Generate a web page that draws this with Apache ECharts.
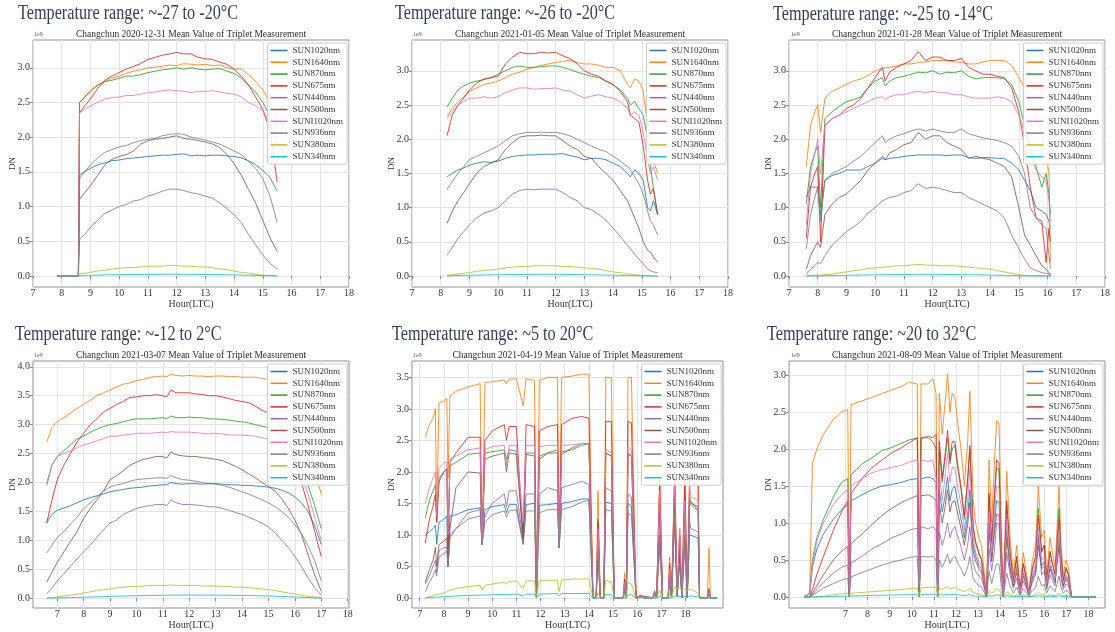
<!DOCTYPE html>
<html><head><meta charset="utf-8">
<script src="https://cdn.jsdelivr.net/npm/echarts@6/dist/echarts.min.js"></script>
<style>html,body{margin:0;padding:0;background:#fff}#c{width:1115px;height:632px}</style>
</head><body><div id="c"></div><script>
const NAMES = ['SUN1020nm','SUN1640nm','SUN870nm','SUN675nm','SUN440nm','SUN500nm','SUNI1020nm','SUN936nm','SUN380nm','SUN340nm'];
const COLORS = ['#1f77b4','#ff7f0e','#2ca02c','#d62728','#9467bd','#8c564b','#e377c2','#7f7f7f','#bcbd22','#17becf'];
const TEMP_TITLES = ['Temperature range: ~-27 to -20\u00b0C','Temperature range: ~-26 to -20\u00b0C','Temperature range: ~-25 to -14\u00b0C','Temperature range: ~-12 to 2\u00b0C','Temperature range: ~5 to 20\u00b0C','Temperature range: ~20 to 32\u00b0C'];
const DATES = ['2020-12-31','2021-01-05','2021-01-28','2021-03-07','2021-04-19','2021-08-09'];
const X_TICKS = [7,8,9,10,11,12,13,14,15,16,17,18];
const Y_TICKS_3 = [0,0.5,1,1.5,2,2.5,3];
const Y_TICKS_35 = [0,0.5,1,1.5,2,2.5,3,3.5];
const Y_TICKS_4 = [0,0.5,1,1.5,2,2.5,3,3.5,4];

// Panel 1 : 2020-12-31 (values in 1e9 DN)
const P1_T = [7.85,8.58,8.62,8.8,9.0,9.25,9.5,9.75,10.0,10.25,10.5,10.75,11.0,11.25,11.5,11.75,12.0,12.25,12.5,12.75,13.0,13.25,13.5,13.75,14.0,14.25,14.5,14.75,15.0,15.25,15.5];
const P1_SUN1020 = [0,0,1.45,1.5,1.55,1.6,1.63,1.66,1.67,1.69,1.7,1.71,1.72,1.73,1.74,1.74,1.75,1.76,1.73,1.74,1.73,1.74,1.74,1.73,1.72,1.7,1.66,1.6,1.52,1.42,1.22];
const P1_SUN1640 = [0,0,2.5,2.58,2.68,2.75,2.8,2.85,2.88,2.92,2.95,2.97,3.0,3.01,3.02,3.04,3.03,3.06,3.05,3.04,3.05,3.03,3.04,3.0,2.98,2.98,2.9,2.8,2.68,2.5,2.3];
const P1_SUN870 = [0,0,2.5,2.58,2.65,2.75,2.8,2.82,2.85,2.88,2.88,2.9,2.93,2.95,2.97,2.98,3.0,2.98,3.0,2.98,2.97,2.98,2.99,2.95,2.92,2.85,2.75,2.65,2.5,2.3,2.1];
const P1_SUN675 = [0,0,2.35,2.45,2.55,2.7,2.82,2.88,2.93,2.98,3.02,3.06,3.12,3.15,3.18,3.2,3.22,3.2,3.2,3.15,3.13,3.12,3.08,3.05,2.98,2.88,2.75,2.58,2.4,2.1,1.35];
const P1_SUN440 = [0,0,0.52,0.6,0.7,0.8,0.9,0.95,1.0,1.03,1.08,1.1,1.15,1.18,1.22,1.25,1.25,1.23,1.2,1.18,1.15,1.12,1.05,0.97,0.88,0.77,0.6,0.45,0.3,0.18,0.1];
const P1_SUN500 = [0,0,1.1,1.2,1.3,1.45,1.6,1.68,1.72,1.75,1.8,1.9,1.95,1.97,1.98,2.0,2.02,1.98,1.97,1.95,1.93,1.9,1.85,1.75,1.62,1.45,1.25,1.05,0.8,0.55,0.35];
const P1_SUNI1020 = [0,0,2.35,2.4,2.45,2.5,2.55,2.57,2.58,2.6,2.6,2.62,2.64,2.65,2.67,2.68,2.67,2.66,2.64,2.66,2.66,2.67,2.65,2.63,2.62,2.58,2.5,2.45,2.38,2.2,1.9];
const P1_SUN936 = [0,0,1.4,1.5,1.6,1.7,1.78,1.82,1.86,1.88,1.92,1.95,1.97,1.98,2.02,2.04,2.05,2.04,2.0,1.98,1.96,1.93,1.9,1.85,1.8,1.75,1.65,1.55,1.4,1.15,0.77];
const P1_SUN380 = [0,0,0.03,0.04,0.05,0.07,0.08,0.1,0.11,0.12,0.12,0.13,0.14,0.14,0.14,0.15,0.15,0.14,0.14,0.13,0.13,0.12,0.1,0.09,0.07,0.05,0.04,0.02,0.01,0.005,0.0];
const P1_SUN340 = [0,0,0.005,0.008,0.01,0.012,0.015,0.017,0.018,0.02,0.02,0.021,0.022,0.022,0.023,0.023,0.023,0.023,0.022,0.022,0.021,0.02,0.019,0.017,0.015,0.012,0.01,0.007,0.004,0.002,0.0];

// Panel 2 : 2021-01-05
const P2_T = [8.22,8.4,8.6,8.8,9.0,9.25,9.5,9.75,10.0,10.25,10.5,10.75,11.0,11.25,11.5,11.75,12.0,12.25,12.5,12.75,13.0,13.25,13.5,13.75,14.0,14.25,14.5,14.6,14.75,14.9,15.05,15.2,15.3,15.4,15.55];
const P2_SUN1020 = [1.45,1.5,1.55,1.58,1.62,1.65,1.67,1.66,1.68,1.72,1.75,1.76,1.77,1.77,1.78,1.78,1.78,1.79,1.76,1.74,1.7,1.72,1.72,1.7,1.65,1.6,1.5,1.45,1.55,1.5,1.4,1.0,0.95,1.1,0.9];
const P2_SUN1640 = [2.33,2.45,2.55,2.62,2.7,2.75,2.8,2.82,2.85,2.9,2.95,2.98,3.02,3.05,3.08,3.1,3.12,3.14,3.15,3.12,3.1,3.1,3.08,3.05,3.05,3.0,2.8,2.75,2.88,2.85,2.7,2.2,2.0,1.7,1.5];
const P2_SUN870 = [2.47,2.6,2.72,2.78,2.82,2.85,2.87,2.9,2.95,3.0,3.05,3.07,3.05,3.05,3.06,3.07,3.07,3.05,3.02,2.98,2.95,2.92,2.9,2.85,2.8,2.72,2.6,2.5,2.55,2.45,2.35,2.0,1.6,1.3,0.9];
const P2_SUN675 = [2.05,2.35,2.5,2.6,2.72,2.82,2.88,2.9,2.92,3.1,3.2,3.27,3.25,3.25,3.27,3.26,3.27,3.22,3.18,3.1,3.0,2.95,2.92,2.85,2.8,2.7,2.55,2.35,2.3,2.25,1.9,1.4,1.2,1.28,0.9];
const P2_SUN440 = [0.3,0.42,0.55,0.65,0.75,0.85,0.92,0.95,1.0,1.1,1.2,1.25,1.27,1.26,1.27,1.27,1.27,1.22,1.15,1.1,1.0,0.97,0.9,0.82,0.7,0.58,0.45,0.4,0.32,0.25,0.18,0.1,0.08,0.06,0.05];
const P2_SUN500 = [0.77,0.95,1.1,1.22,1.35,1.5,1.6,1.65,1.7,1.85,1.95,2.03,2.05,2.05,2.06,2.05,2.05,1.98,1.9,1.85,1.75,1.72,1.6,1.5,1.4,1.25,1.1,1.0,0.85,0.7,0.5,0.38,0.35,0.28,0.2];
const P2_SUNI1020 = [2.3,2.4,2.5,2.55,2.6,2.6,2.62,2.6,2.62,2.68,2.72,2.75,2.75,2.73,2.74,2.74,2.75,2.72,2.7,2.65,2.6,2.63,2.65,2.62,2.6,2.55,2.45,2.35,2.4,2.35,2.1,1.7,1.5,1.6,1.4];
const P2_SUN936 = [1.27,1.38,1.5,1.6,1.7,1.75,1.8,1.85,1.9,1.98,2.05,2.08,2.1,2.1,2.1,2.1,2.1,2.08,2.05,2.0,1.95,1.9,1.85,1.82,1.75,1.68,1.6,1.55,1.45,1.35,1.2,0.95,0.8,0.75,0.6];
const P2_SUN380 = [0.01,0.02,0.03,0.04,0.05,0.07,0.08,0.09,0.1,0.12,0.13,0.14,0.14,0.15,0.15,0.15,0.15,0.14,0.14,0.13,0.12,0.11,0.1,0.08,0.06,0.05,0.03,0.03,0.02,0.01,0.01,0.005,0.003,0.001,0];
const P2_SUN340 = [0.003,0.005,0.008,0.01,0.012,0.014,0.016,0.018,0.02,0.021,0.022,0.023,0.024,0.025,0.025,0.025,0.025,0.024,0.023,0.022,0.02,0.019,0.017,0.015,0.013,0.011,0.009,0.008,0.007,0.005,0.004,0.003,0.002,0.001,0];

// Panel 3 : 2021-01-28
const P3_T = [7.6,7.75,7.9,8.0,8.1,8.25,8.5,8.75,9.0,9.25,9.5,9.75,10.0,10.25,10.35,10.5,10.75,11.0,11.25,11.5,11.75,12.0,12.25,12.5,12.75,13.0,13.25,13.5,13.75,14.0,14.25,14.5,14.75,15.0,15.2,15.4,15.6,15.8,15.95,16.05,16.1];
const P3_SUN1020 = [1.15,1.3,1.3,1.3,0.9,1.4,1.47,1.5,1.55,1.55,1.55,1.6,1.65,1.72,1.7,1.72,1.73,1.75,1.76,1.77,1.77,1.77,1.77,1.76,1.77,1.77,1.73,1.72,1.73,1.73,1.72,1.72,1.65,1.55,1.4,1.25,1.0,0.95,0.9,0.8,0.7];
const P3_SUN1640 = [1.6,2.2,2.4,2.5,2.1,2.6,2.7,2.75,2.8,2.85,2.88,2.93,3.0,3.03,3.05,3.05,3.07,3.1,3.1,3.12,3.13,3.15,3.15,3.15,3.13,3.12,3.1,3.1,3.13,3.15,3.15,3.15,3.08,2.9,2.75,2.55,2.35,2.1,1.8,1.5,0.2];
const P3_SUN870 = [1.05,1.6,1.8,1.9,1.0,2.3,2.4,2.48,2.55,2.58,2.62,2.75,2.85,2.9,2.78,2.85,2.9,2.92,2.95,2.98,2.97,3.0,2.95,2.98,2.97,3.0,2.92,2.88,2.9,2.9,2.9,2.88,2.8,2.55,2.2,1.9,1.6,1.3,1.5,1.2,0.9];
const P3_SUN675 = [0.55,1.3,1.5,1.6,0.5,2.2,2.3,2.35,2.45,2.5,2.6,2.75,2.9,3.05,2.85,2.98,3.05,3.1,3.15,3.28,3.15,3.2,3.2,3.15,3.15,3.18,3.05,3.0,2.95,2.95,2.92,2.9,2.75,2.4,1.9,1.3,0.85,0.8,0.2,0.7,0.5];
const P3_SUN440 = [0.02,0.1,0.15,0.2,0.18,0.3,0.45,0.55,0.65,0.72,0.8,0.92,1.0,1.1,1.12,1.15,1.17,1.22,1.25,1.35,1.28,1.3,1.28,1.25,1.22,1.22,1.15,1.1,1.05,1.0,0.95,0.85,0.6,0.4,0.25,0.12,0.08,0.05,0.04,0.03,0.02];
const P3_SUN500 = [0.1,0.3,0.42,0.5,0.42,0.9,1.05,1.15,1.2,1.3,1.4,1.55,1.65,1.75,1.7,1.8,1.85,1.92,1.95,2.1,2.0,2.05,2.05,1.95,1.9,1.85,1.72,1.75,1.72,1.7,1.65,1.6,1.45,1.0,0.6,0.45,0.3,0.15,0.1,0.05,0.0];
const P3_SUNI1020 = [0.75,1.5,1.8,2.0,1.5,2.2,2.3,2.35,2.4,2.45,2.5,2.55,2.6,2.62,2.58,2.62,2.65,2.65,2.68,2.7,2.68,2.7,2.68,2.68,2.65,2.65,2.62,2.6,2.6,2.6,2.62,2.6,2.55,2.35,2.1,1.8,1.55,1.45,1.4,1.1,0.8];
const P3_SUN936 = [0.4,0.9,1.15,1.3,0.8,1.4,1.5,1.55,1.6,1.68,1.75,1.85,1.95,2.05,1.95,2.0,2.05,2.08,2.12,2.15,2.12,2.15,2.12,2.1,2.1,2.15,2.08,2.05,2.02,2.0,1.98,1.95,1.9,1.75,1.5,1.0,0.85,0.75,0.7,0.3,0.1];
const P3_SUN380 = [0,0.005,0.01,0.015,0.01,0.02,0.03,0.05,0.06,0.08,0.09,0.11,0.12,0.13,0.13,0.14,0.15,0.15,0.16,0.17,0.16,0.16,0.15,0.15,0.15,0.14,0.13,0.12,0.11,0.1,0.08,0.06,0.04,0.02,0.01,0.005,0.003,0.002,0.001,0,0];
const P3_SUN340 = [0,0.002,0.003,0.004,0.003,0.005,0.007,0.009,0.011,0.013,0.015,0.017,0.019,0.02,0.02,0.021,0.022,0.023,0.024,0.025,0.025,0.025,0.024,0.024,0.023,0.022,0.02,0.019,0.017,0.015,0.013,0.011,0.008,0.005,0.004,0.003,0.002,0.001,0.001,0,0];

// Panel 4 : 2021-03-07
const P4_T = [6.6,6.8,7.0,7.25,7.5,7.75,8.0,8.25,8.5,8.75,9.0,9.25,9.5,9.75,10.0,10.25,10.5,10.75,11.0,11.15,11.3,11.5,11.75,12.0,12.25,12.5,12.75,13.0,13.25,13.5,13.75,14.0,14.25,14.5,14.75,15.0,15.25,15.5,15.75,16.0,16.25,16.5,16.75,17.0];
const P4_SUN1020 = [1.3,1.45,1.52,1.56,1.6,1.65,1.7,1.74,1.77,1.8,1.84,1.86,1.88,1.9,1.91,1.92,1.94,1.95,1.96,1.96,2.0,1.98,1.97,1.98,1.98,1.97,1.98,1.98,1.97,1.96,1.96,1.95,1.95,1.94,1.93,1.92,1.9,1.87,1.82,1.75,1.65,1.5,1.25,0.93];
const P4_SUN1640 = [2.7,2.95,3.05,3.12,3.2,3.28,3.35,3.42,3.5,3.55,3.6,3.65,3.7,3.72,3.76,3.78,3.82,3.83,3.84,3.83,3.87,3.85,3.84,3.85,3.84,3.84,3.83,3.84,3.84,3.83,3.83,3.82,3.82,3.82,3.8,3.78,3.72,3.65,3.52,3.35,3.05,2.65,2.2,1.8];
const P4_SUN870 = [1.95,2.3,2.45,2.55,2.65,2.75,2.8,2.87,2.92,2.97,3.0,3.02,3.05,3.08,3.1,3.1,3.1,3.11,3.12,3.1,3.15,3.12,3.12,3.13,3.12,3.12,3.1,3.1,3.09,3.08,3.06,3.05,3.03,3.0,2.97,2.95,2.9,2.8,2.65,2.5,2.25,1.95,1.6,1.2];
const P4_SUN675 = [1.3,1.7,2.05,2.3,2.5,2.7,2.85,3.0,3.1,3.22,3.28,3.35,3.4,3.47,3.48,3.5,3.5,3.52,3.5,3.48,3.6,3.55,3.55,3.55,3.53,3.52,3.5,3.5,3.48,3.45,3.42,3.4,3.38,3.32,3.25,3.2,3.1,2.95,2.7,2.4,2.0,1.6,1.15,0.72];
const P4_SUN440 = [0.07,0.18,0.3,0.42,0.55,0.68,0.8,0.92,1.05,1.18,1.3,1.35,1.45,1.5,1.55,1.58,1.6,1.62,1.62,1.6,1.7,1.65,1.62,1.62,1.61,1.6,1.58,1.58,1.55,1.52,1.48,1.45,1.4,1.35,1.3,1.23,1.13,1.0,0.88,0.72,0.55,0.35,0.18,0.05];
const P4_SUN500 = [0.28,0.45,0.62,0.8,0.98,1.15,1.38,1.55,1.7,1.85,2.05,2.12,2.2,2.3,2.35,2.4,2.42,2.45,2.45,2.42,2.53,2.48,2.46,2.45,2.45,2.43,2.42,2.4,2.38,2.33,2.28,2.22,2.15,2.08,2.0,1.93,1.85,1.72,1.55,1.35,1.1,0.75,0.4,0.12];
const P4_SUNI1020 = [2.0,2.3,2.45,2.5,2.55,2.6,2.65,2.68,2.72,2.76,2.8,2.8,2.82,2.83,2.85,2.85,2.85,2.86,2.87,2.86,2.88,2.87,2.87,2.87,2.86,2.85,2.84,2.85,2.84,2.82,2.82,2.82,2.81,2.8,2.77,2.75,2.7,2.62,2.5,2.35,2.1,1.8,1.4,1.0];
const P4_SUN936 = [0.78,0.92,1.05,1.15,1.28,1.4,1.55,1.65,1.75,1.85,1.92,1.96,1.98,2.02,2.05,2.06,2.07,2.08,2.08,2.07,2.12,2.08,2.05,2.04,2.02,2.0,1.98,1.97,1.95,1.92,1.88,1.84,1.8,1.75,1.7,1.65,1.58,1.5,1.4,1.27,1.12,0.9,0.65,0.3];
const P4_SUN380 = [0.0,0.01,0.02,0.04,0.05,0.07,0.09,0.11,0.13,0.15,0.16,0.18,0.19,0.2,0.2,0.21,0.22,0.22,0.22,0.22,0.23,0.22,0.22,0.22,0.22,0.21,0.21,0.21,0.2,0.2,0.19,0.19,0.18,0.17,0.16,0.15,0.13,0.11,0.09,0.07,0.05,0.03,0.02,0.01];
const P4_SUN340 = [0.0,0.002,0.005,0.008,0.01,0.013,0.016,0.02,0.023,0.026,0.03,0.033,0.036,0.039,0.042,0.044,0.046,0.048,0.05,0.05,0.052,0.052,0.053,0.053,0.053,0.053,0.052,0.052,0.051,0.05,0.048,0.047,0.045,0.043,0.04,0.037,0.033,0.029,0.025,0.02,0.015,0.01,0.005,0.0];

// Panel 5 : 2021-04-19
const P5_T = [7.23,7.4,7.55,7.65,7.7,7.8,8.0,8.12,8.17,8.25, 8.5,9.0,9.5,9.58,9.7,10.0,10.5,10.59,10.7,11.0, 11.28,11.4,11.75,11.83,11.95,12.3,12.7,12.77,12.87,13.3, 13.7,14.0,14.17,14.3,14.38,14.47,14.62,14.7,14.93,15.05, 15.42,15.48,15.55,15.62,15.76,15.95,16.17,16.25,16.65,16.72, 16.8,16.93,17.05,17.28,17.34,17.42,17.55,17.65,17.76,17.85, 17.97,18.07,18.17,18.22,18.52,18.58,18.9,18.97,19.03,19.3];
const P5_SUN1020 = [1.0,1.05,1.1,1.15,0.85,1.2,1.25,1.3,0.5,1.3, 1.32,1.4,1.43,0.85,1.4,1.45,1.48,1.35,1.48,1.48, 0.85,1.48,1.5,0.02,1.47,1.48,1.5,0.8,1.5,1.53, 1.57,1.57,0,0,0.7,0,0,1.52,1.5,0, 0,0.15,0,1.5,1.45,0,0.03,0,0,0.06, 0,0.9,0,0,0.3,0,1.2,0.03,0.6,0, 0.9,0,1.0,1.0,0.95,0,0,0.08,0,0];
const P5_SUN1640 = [2.55,2.75,2.85,3.0,1.3,3.1,3.12,3.17,1.9,3.2, 3.28,3.35,3.4,0.85,3.42,3.43,3.46,3.4,3.47,3.48, 3.05,3.48,3.45,0.05,3.45,3.5,3.5,0.8,3.5,3.52, 3.55,3.55,0,0,1.7,0,0,3.5,3.5,0, 0,0.4,0,3.5,3.5,0,0.05,0,0,0.12, 0,1.9,0,0,0.65,0,2.1,0.05,1.1,0, 2.0,0,2.0,1.95,1.9,0,0,0.8,0,0];
const P5_SUN870 = [1.27,1.55,1.7,1.8,1.2,1.9,2.0,2.05,0.8,2.1, 2.15,2.28,2.3,0.9,2.3,2.32,2.35,2.2,2.35,2.33, 1.0,2.3,2.3,0.02,2.25,2.3,2.35,0.8,2.32,2.35, 2.42,2.45,0,0,1.25,0,0,2.3,2.25,0, 0,0.25,0,2.3,2.25,0,0.04,0,0,0.1, 0,1.5,0,0,0.45,0,1.6,0.04,0.8,0, 1.6,0,1.6,1.5,1.45,0,0,0.1,0,0];
const P5_SUN675 = [0.87,1.25,1.45,1.65,1.2,1.85,2.0,2.05,0.8,2.15, 2.3,2.55,2.55,0.85,2.5,2.65,2.75,2.5,2.72,2.72, 0.9,2.75,2.72,0.02,2.65,2.72,2.75,0.8,2.75,2.85, 2.88,2.85,0,0,1.2,0,0,2.8,2.8,0, 0,0.3,0,2.8,2.78,0,0.04,0,0,0.1, 0,1.85,0,0,0.55,0,2.0,0.04,1.0,0, 1.9,0,1.9,1.85,1.8,0,0,0.15,0,0];
const P5_SUN440 = [0.1,0.25,0.35,0.45,0.35,0.65,0.7,0.75,0.5,1.0, 1.1,1.35,1.4,0.85,1.3,1.5,1.65,1.45,1.7,1.7, 0.9,1.65,1.65,0.02,1.65,1.75,1.7,0.8,1.75,1.8, 1.85,1.8,0,0,0.8,0,0,1.75,1.7,0, 0,0.18,0,1.65,1.6,0,0.03,0,0,0.08, 0,1.0,0,0,0.35,0,1.4,0.03,0.65,0, 1.0,0,1.2,1.1,1.05,0,0,0.08,0,0];
const P5_SUN500 = [0.25,0.45,0.6,0.8,0.5,0.85,0.9,0.95,0.5,1.1, 1.75,2.0,1.98,0.85,2.2,2.25,2.3,2.0,2.3,2.28, 0.9,2.28,2.25,0.02,2.2,2.3,2.3,0.8,2.28,2.38, 2.45,2.45,0,0,0.9,0,0,2.3,2.25,0, 0,0.2,0,2.28,2.25,0,0.03,0,0,0.08, 0,1.4,0,0,0.4,0,1.5,0.03,0.7,0, 1.4,0,1.55,1.55,1.4,0,0,0.1,0,0];
const P5_SUNI1020 = [1.5,1.75,1.9,2.0,1.3,2.05,2.15,2.15,1.0,2.2, 2.25,2.35,2.38,0.9,2.35,2.4,2.42,2.1,2.42,2.42, 1.2,2.42,2.42,0.02,2.4,2.42,2.42,0.8,2.42,2.43, 2.45,2.45,0,0,1.1,0,0,2.35,2.3,0, 0,0.25,0,2.4,2.35,0,0.04,0,0,0.1, 0,1.7,0,0,0.45,0,1.8,0.04,1.1,0, 1.55,0,1.8,1.6,1.55,0,0,0.1,0,0];
const P5_SUN936 = [0.22,0.35,0.5,0.6,0.4,0.75,0.8,0.8,0.5,0.95, 1.1,1.25,1.3,0.85,1.2,1.32,1.38,1.28,1.38,1.4, 0.85,1.38,1.38,0.02,1.35,1.4,1.4,0.8,1.4,1.45, 1.52,1.55,0,0,0.6,0,0,1.4,1.38,0, 0,0.12,0,1.35,1.3,0,0.02,0,0,0.06, 0,0.8,0,0,0.25,0,1.45,0.02,0.55,0, 0.9,0,1.5,1.5,1.38,0,0,0.06,0,0];
const P5_SUN380 = [0.0,0.02,0.04,0.05,0.04,0.06,0.08,0.1,0.07,0.12, 0.15,0.18,0.2,0.12,0.2,0.22,0.25,0.22,0.26,0.27, 0.15,0.27,0.27,0.0,0.27,0.28,0.28,0.1,0.28,0.3, 0.3,0.3,0,0,0.08,0,0,0.28,0.25,0, 0,0.05,0,0.25,0.22,0,0.01,0,0,0.03, 0,0.12,0,0,0.08,0,0.18,0.15,0.15,0.12, 0.15,0.12,0.14,0.12,0.08,0,0,0.02,0,0];
const P5_SUN340 = [0,0.005,0.01,0.012,0.01,0.015,0.02,0.022,0.015,0.025, 0.03,0.04,0.045,0.03,0.045,0.05,0.055,0.05,0.055,0.06, 0.03,0.06,0.06,0.0,0.06,0.065,0.07,0.03,0.07,0.07, 0.07,0.07,0,0,0.02,0,0,0.06,0.05,0, 0,0.01,0,0.05,0.05,0,0.002,0,0,0.005, 0,0.03,0,0,0.01,0,0.03,0.02,0.02,0.015, 0.03,0.015,0.03,0.025,0.02,0,0,0.005,0,0];

// Panel 6 : 2021-08-09
const P6_T = [5.13,5.38,5.5,5.7,6.0,6.45,6.82,7.1,7.17,7.25, 7.75,8.2,8.65,9.1,9.55,9.85,10.25,10.34,10.42,10.75, 10.95,11.1,11.17,11.25,11.38,11.5,11.62,11.73,11.83,11.95, 12.1,12.23,12.38,12.53,12.63,12.78,12.89,13.04,13.16,13.39, 13.5,13.62,13.74,13.84,13.95,14.04,14.14,14.3,14.45,14.6, 14.75,14.9,15.05,15.2,15.3,15.46,15.61,15.73,15.88,16.0, 16.11,16.26,16.37,16.49,16.67,16.76,16.86,16.98,17.09,17.24, 18.33];
const P6_SUN1020 = [0,0.05,0.4,0.65,0.85,1.05,1.18,1.25,0.0,1.3, 1.38,1.45,1.5,1.52,1.55,1.58,1.6,0.0,1.6,1.62, 1.6,1.55,0.0,1.45,1.15,1.35,1.62,1.3,1.45,1.5, 1.25,1.05,0.8,1.1,1.45,0.7,0.55,0.42,0.38,0.0, 1.0,0.55,0.95,1.3,1.28,0.58,0.0,0.9,0.42,0.16, 0.38,0.05,0.32,0.16,0.03,0.27,0.38,0.8,0.42,0.48, 0.16,0.42,0.32,0.22,0.78,0.38,0.16,0.27,0.22,0.0, 0.0];
const P6_SUN1640 = [0,0.05,1.8,2.0,2.2,2.4,2.5,2.53,0.0,2.6, 2.65,2.7,2.75,2.8,2.85,2.9,2.88,0.0,2.88,2.88, 2.95,2.75,0.0,2.75,2.2,2.6,3.02,2.5,2.75,2.7, 2.3,2.0,1.5,2.1,2.78,1.3,1.0,0.8,0.7,0.0, 1.85,1.0,1.8,2.38,2.35,1.1,0.0,1.7,0.8,0.3, 0.7,0.1,0.6,0.3,0.05,0.5,0.7,1.5,0.8,0.9, 0.3,0.8,0.6,0.4,1.5,0.7,0.3,0.5,0.4,0.0, 0.0];
const P6_SUN870 = [0,0.05,0.5,0.8,1.05,1.35,1.55,1.6,0.02,1.65, 1.8,1.88,1.98,2.02,2.08,2.12,2.15,0.0,2.15,2.15, 2.1,2.0,0.0,2.0,1.55,1.85,2.15,1.8,2.0,2.05, 1.7,1.45,1.05,1.55,2.0,0.95,0.72,0.58,0.5,0.0, 1.35,0.72,1.3,1.75,1.72,0.8,0.0,1.25,0.6,0.22, 0.52,0.08,0.45,0.22,0.04,0.38,0.55,1.2,0.62,0.7, 0.22,0.62,0.45,0.3,1.2,0.55,0.22,0.4,0.32,0.0, 0.0];
const P6_SUN675 = [0,0,0.1,0.3,0.55,0.9,1.15,1.3,0.0,1.4, 1.6,1.75,1.85,1.95,2.02,2.08,2.15,0.0,2.15,2.17, 2.15,2.2,0.0,2.1,1.6,1.9,2.25,1.85,2.1,2.1, 1.75,1.5,1.1,1.6,2.05,0.95,0.75,0.6,0.5,0.0, 1.4,0.75,1.35,1.85,1.8,0.8,0.0,1.3,0.6,0.22, 0.55,0.08,0.45,0.22,0.04,0.38,0.55,1.1,0.6,0.7, 0.22,0.6,0.45,0.3,1.05,0.55,0.22,0.38,0.3,0.0, 0.0];
const P6_SUN440 = [0,0,0.03,0.1,0.2,0.32,0.4,0.43,0.0,0.46, 0.55,0.65,0.72,0.8,0.85,0.9,0.93,0.0,0.95,0.92, 0.95,0.9,0.0,0.88,0.7,0.82,1.0,0.8,0.9,0.95, 0.8,0.68,0.5,0.7,0.95,0.45,0.35,0.28,0.25,0.0, 0.65,0.35,0.62,1.0,0.98,0.4,0.0,0.6,0.3,0.12, 0.25,0.04,0.22,0.1,0.02,0.2,0.3,0.85,0.3,0.35, 0.1,0.3,0.22,0.15,0.95,0.25,0.1,0.18,0.15,0.0, 0.0];
const P6_SUN500 = [0,0,0.05,0.15,0.3,0.5,0.62,0.68,0.0,0.72, 0.85,0.98,1.1,1.2,1.28,1.32,1.37,0.0,1.37,1.38, 1.35,1.3,0.0,1.25,1.0,1.2,1.45,1.15,1.28,1.3, 1.1,0.92,0.7,0.98,1.28,0.62,0.48,0.38,0.33,0.0, 0.88,0.48,0.85,1.12,1.1,0.52,0.0,0.8,0.38,0.14, 0.33,0.05,0.28,0.14,0.02,0.24,0.33,0.7,0.38,0.42, 0.14,0.38,0.28,0.19,0.7,0.33,0.14,0.24,0.19,0.0, 0.0];
const P6_SUNI1020 = [0,0.05,0.45,0.75,1.0,1.25,1.38,1.45,0.0,1.5, 1.6,1.68,1.72,1.75,1.78,1.82,1.85,0.0,1.85,1.83, 1.85,1.6,0.0,1.7,1.3,1.6,1.95,1.55,1.75,1.75, 1.45,1.25,0.9,1.3,1.75,0.8,0.6,0.48,0.42,0.0, 1.15,0.6,1.1,1.5,1.48,0.65,0.0,1.05,0.5,0.18, 0.42,0.06,0.36,0.18,0.03,0.3,0.45,0.95,0.5,0.55, 0.18,0.5,0.36,0.25,0.9,0.42,0.18,0.3,0.25,0.0, 0.0];
const P6_SUN936 = [0,0,0.02,0.06,0.12,0.18,0.23,0.25,0.0,0.27, 0.33,0.38,0.43,0.47,0.5,0.53,0.55,0.0,0.55,0.54, 0.55,0.5,0.0,0.5,0.4,0.48,0.58,0.45,0.52,0.55, 0.45,0.38,0.28,0.4,0.55,0.25,0.2,0.15,0.13,0.0, 0.35,0.18,0.34,0.45,0.44,0.2,0.0,0.32,0.15,0.05, 0.13,0.02,0.11,0.05,0.01,0.09,0.13,0.28,0.15,0.17, 0.05,0.15,0.11,0.07,0.28,0.13,0.05,0.09,0.07,0.0, 0.0];
const P6_SUN380 = [0,0,0,0.003,0.01,0.03,0.04,0.05,0.0,0.05, 0.06,0.07,0.08,0.09,0.1,0.11,0.12,0.0,0.12,0.13, 0.13,0.13,0.0,0.12,0.1,0.12,0.14,0.11,0.12,0.13, 0.1,0.09,0.07,0.09,0.12,0.06,0.05,0.04,0.03,0.0, 0.08,0.05,0.08,0.11,0.1,0.05,0.0,0.07,0.04,0.01, 0.03,0.01,0.03,0.01,0.0,0.02,0.03,0.06,0.03,0.04, 0.01,0.03,0.02,0.02,0.05,0.03,0.01,0.02,0.02,0.0, 0.0];
const P6_SUN340 = [0,0,0,0,0.002,0.005,0.01,0.012,0.0,0.013, 0.016,0.02,0.022,0.025,0.028,0.03,0.032,0.0,0.033,0.035, 0.035,0.034,0.0,0.032,0.027,0.03,0.036,0.028,0.032,0.033, 0.027,0.023,0.018,0.024,0.03,0.015,0.012,0.01,0.008,0.0, 0.02,0.012,0.02,0.027,0.026,0.012,0.0,0.018,0.009,0.003, 0.008,0.001,0.007,0.003,0.0,0.006,0.008,0.016,0.009,0.01, 0.003,0.009,0.007,0.005,0.015,0.008,0.003,0.006,0.005,0.0, 0.0];

const PANELS = [
  {t: P1_T, s: [P1_SUN1020,P1_SUN1640,P1_SUN870,P1_SUN675,P1_SUN440,P1_SUN500,P1_SUNI1020,P1_SUN936,P1_SUN380,P1_SUN340]},
  {t: P2_T, s: [P2_SUN1020,P2_SUN1640,P2_SUN870,P2_SUN675,P2_SUN440,P2_SUN500,P2_SUNI1020,P2_SUN936,P2_SUN380,P2_SUN340]},
  {t: P3_T, s: [P3_SUN1020,P3_SUN1640,P3_SUN870,P3_SUN675,P3_SUN440,P3_SUN500,P3_SUNI1020,P3_SUN936,P3_SUN380,P3_SUN340]},
  {t: P4_T, s: [P4_SUN1020,P4_SUN1640,P4_SUN870,P4_SUN675,P4_SUN440,P4_SUN500,P4_SUNI1020,P4_SUN936,P4_SUN380,P4_SUN340]},
  {t: P5_T, s: [P5_SUN1020,P5_SUN1640,P5_SUN870,P5_SUN675,P5_SUN440,P5_SUN500,P5_SUNI1020,P5_SUN936,P5_SUN380,P5_SUN340]},
  {t: P6_T, s: [P6_SUN1020,P6_SUN1640,P6_SUN870,P6_SUN675,P6_SUN440,P6_SUN500,P6_SUNI1020,P6_SUN936,P6_SUN380,P6_SUN340]}
];

// layout (pixels) and axis extents
const LAYOUT = [
  {left:33,  top:40,  width:316, height:247, xmin:7,    xmax:18,    ymin:-0.16, ymax:3.40, yt:Y_TICKS_3,  big:[18,13.5], e9:[34,37],  dn:13},
  {left:412, top:40,  width:316, height:247, xmin:7,    xmax:18,    ymin:-0.16, ymax:3.45, yt:Y_TICKS_3,  big:[395,14],  e9:[413,37], dn:392},
  {left:789, top:40,  width:316, height:247, xmin:7,    xmax:18,    ymin:-0.16, ymax:3.45, yt:Y_TICKS_3,  big:[773,15],  e9:[791,37], dn:769},
  {left:33,  top:361, width:316, height:247, xmin:6.08, xmax:18.05, ymin:-0.17, ymax:4.10, yt:Y_TICKS_4,  big:[15,334.5], e9:[34,358], dn:13},
  {left:412, top:361, width:311, height:247, xmin:6.68, xmax:19.55, ymin:-0.16, ymax:3.76, yt:Y_TICKS_35, big:[392,335], e9:[413,358], dn:392},
  {left:789, top:361, width:316, height:247, xmin:4.44, xmax:18.75, ymin:-0.15, ymax:3.19, yt:Y_TICKS_3,  big:[767,335], e9:[791,358], dn:769}
];

const FONT = 'Liberation Serif';
const grids = [], xAxes = [], yAxes = [], series = [], legends = [], graphics = [];
LAYOUT.forEach((L, i) => {
  grids.push({left: L.left, top: L.top, width: L.width, height: L.height, show: true, borderColor: '#8f8f8f', borderWidth: 1, backgroundColor: '#fff'});
  xAxes.push({
    type: 'value', gridIndex: i, min: L.xmin, max: L.xmax,
    name: 'Hour(LTC)', nameLocation: 'middle', nameGap: 12,
    nameTextStyle: {fontFamily: FONT, fontSize: 10, color: '#333'},
    axisLine: {show: false},
    axisTick: {show: true, length: 3, customValues: X_TICKS, lineStyle: {color: '#888'}},
    axisLabel: {customValues: X_TICKS, fontFamily: FONT, fontSize: 10, color: '#333', margin: 1},
    splitLine: {show: true, lineStyle: {color: '#e3e3e3', width: 1}}
  });
  yAxes.push({
    type: 'value', gridIndex: i, min: L.ymin, max: L.ymax,
    axisLine: {show: false},
    axisTick: {show: true, length: 3, customValues: L.yt, lineStyle: {color: '#888'}},
    axisLabel: {customValues: L.yt, fontFamily: FONT, fontSize: 10, color: '#333', margin: 3, formatter: v => v.toFixed(1)},
    splitLine: {show: true, lineStyle: {color: '#e3e3e3', width: 1}}
  });
  const P = PANELS[i];
  NAMES.forEach((nm, k) => {
    series.push({
      type: 'line', name: nm, xAxisIndex: i, yAxisIndex: i,
      data: P.t.map((x, j) => [x, P.s[k][j]]),
      showSymbol: false, symbol: 'none', silent: true,
      lineStyle: {width: 1, color: COLORS[k], opacity: 0.85},
      itemStyle: {color: COLORS[k]},
      animation: false
    });
  });
  legends.push({
    data: NAMES, orient: 'vertical', selectedMode: false,
    right: 1115 - (L.left + L.width) + 2, top: L.top + 3,
    icon: 'rect', itemWidth: 17, itemHeight: 1.5, itemGap: 2.8,
    padding: [3, 4, 3, 3],
    backgroundColor: 'rgba(255,255,255,0.85)', borderColor: '#cccccc', borderWidth: 1, borderRadius: 2,
    textStyle: {fontFamily: FONT, fontSize: 9, color: '#333'}
  });
  graphics.push({type: 'text', x: L.big[0], y: L.big[1], scaleX: 0.81, silent: true,
    style: {text: TEMP_TITLES[i], font: '20px "Liberation Serif"', fill: '#33405a', align: 'left', verticalAlign: 'middle'}});
  graphics.push({type: 'text', x: L.left + L.width / 2, y: L.top - 6, silent: true,
    style: {text: 'Changchun ' + DATES[i] + ' Mean Value of Triplet Measurement', font: '9.5px "Liberation Serif"', fill: '#2a2a2a', align: 'center', verticalAlign: 'middle'}});
  graphics.push({type: 'text', x: L.e9[0], y: L.e9[1], silent: true,
    style: {text: '1e9', font: '6px "Liberation Serif"', fill: '#555', align: 'left', verticalAlign: 'bottom'}});
  graphics.push({type: 'text', x: L.dn, y: L.top + L.height / 2, rotation: Math.PI / 2, silent: true,
    style: {text: 'DN', font: '9px "Liberation Serif"', fill: '#333', align: 'center', verticalAlign: 'middle'}});
});

const chart = echarts.init(document.getElementById('c'), null, {renderer: 'canvas'});
chart.setOption({
  animation: false,
  backgroundColor: '#fff',
  grid: grids, xAxis: xAxes, yAxis: yAxes, series: series, legend: legends, graphic: graphics
});
</script></body></html>
